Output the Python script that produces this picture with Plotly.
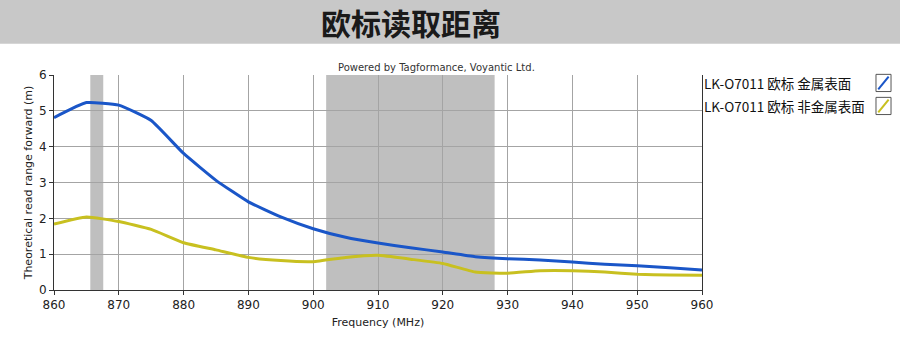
import plotly.graph_objects as go

freq = [860, 865, 870, 875, 880, 885, 890, 895, 900, 905, 910, 915, 920, 925, 930, 935, 940, 945, 950, 955, 960]
metal = [4.81, 5.23, 5.16, 4.73, 3.81, 3.06, 2.46, 2.04, 1.71, 1.47, 1.31, 1.18, 1.06, 0.93, 0.87, 0.84, 0.78, 0.72, 0.68, 0.62, 0.56]
nonmetal = [1.84, 2.04, 1.91, 1.69, 1.32, 1.12, 0.91, 0.82, 0.79, 0.91, 0.97, 0.86, 0.74, 0.5, 0.47, 0.54, 0.54, 0.5, 0.44, 0.42, 0.41]
bands = [(865.6, 867.6), (902, 928)]
series_names = ["LK-O7011 欧标 金属表面", "LK-O7011 欧标 非金属表面"]
colors = ["#1a56c8", "#c8c020"]
title = "欧标读取距离"
xticks = list(range(860, 961, 10))
yticks = [0, 1, 2, 3, 4, 5, 6]

fig = go.Figure()
for name, vals, c in [(series_names[0], metal, colors[0]), (series_names[1], nonmetal, colors[1])]:
    fig.add_trace(go.Scatter(x=freq, y=vals, mode="lines", name=name,
                             line=dict(color=c, width=3, shape="spline", smoothing=0.4),
                             showlegend=False, hoverinfo="skip"))

# gray frequency bands (translucent so the gridlines show through)
for x0, x1 in bands:
    fig.add_vrect(x0=x0, x1=x1, fillcolor="rgba(0,0,0,0.25)", line_width=0, layer="below")

# title banner
fig.add_shape(type="rect", xref="paper", yref="paper", x0=-0.1, x1=1.4, y0=1.145, y1=1.43,
              fillcolor="#c8c8c8", line_width=0, layer="below")
fig.add_annotation(text="<b>" + title + "</b>", xref="paper", yref="paper", x=0.551, y=1.246,
                   showarrow=False, font=dict(family="Noto Sans CJK SC", size=30, color="#1a1a1a"),
                   xanchor="center", yanchor="middle")

fig.add_annotation(text="Powered by Tagformance, Voyantic Ltd.", xref="paper", yref="paper",
                   x=0.59, y=1.0, yanchor="bottom", showarrow=False,
                   font=dict(family="DejaVu Sans", size=10, color="#333333"))

# legend (text + icon boxes on the right)
for i, (name, c) in enumerate(zip(series_names, colors)):
    yc = 0.963 - i * 0.107
    fig.add_annotation(text=name, xref="paper", yref="paper", x=1.0, y=yc, xanchor="left",
                       yanchor="middle", showarrow=False,
                       font=dict(family="Noto Sans CJK SC", size=13.5, color="#111111"))
    fig.add_shape(type="rect", xref="paper", yref="paper", x0=1.2685, x1=1.2917, y0=yc - 0.04, y1=yc + 0.04,
                  line=dict(color="#555555", width=1), fillcolor="white")
    fig.add_shape(type="line", xref="paper", yref="paper", x0=1.272, x1=1.288, y0=yc - 0.03, y1=yc + 0.03,
                  line=dict(color=c, width=2))

fig.update_layout(
    width=900, height=356,
    margin=dict(l=54, r=198, t=75, b=66),
    paper_bgcolor="white", plot_bgcolor="white",
    font=dict(family="DejaVu Sans", size=12, color="#222222"),
)
fig.update_xaxes(range=[860, 960], tickvals=xticks, showgrid=True, gridcolor="#a4a4a4", gridwidth=1,
                 ticks="outside", ticklen=4, tickcolor="#333333", showline=True, linecolor="#333333",
                 mirror=False, zeroline=False,
                 title=dict(text="Frequency (MHz)", font=dict(size=11), standoff=6),
                 tickfont=dict(size=12))
fig.update_yaxes(range=[0, 6], tickvals=yticks, showgrid=True, gridcolor="#a4a4a4", gridwidth=1,
                 ticks="outside", ticklen=4, tickcolor="#333333", showline=True, linecolor="#333333",
                 mirror=True, zeroline=False,
                 title=dict(text="Theoretical read range forward (m)", font=dict(size=11), standoff=4),
                 tickfont=dict(size=12))

fig.write_html("out.html", config={"displayModeBar": False},
               post_script="document.body.style.margin='0';document.body.style.overflow='hidden';")
